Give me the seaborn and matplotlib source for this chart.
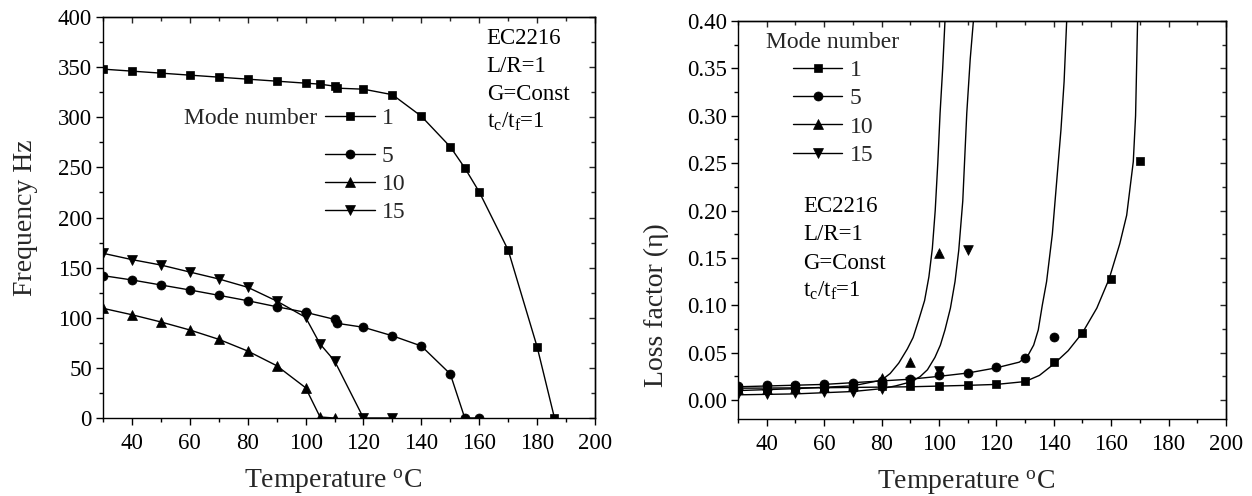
import matplotlib
matplotlib.use("Agg")
import matplotlib.pyplot as plt
import seaborn as sns
from matplotlib.lines import Line2D
from matplotlib.ticker import FixedLocator, NullFormatter, FormatStrFormatter

# ---------------- Left panel: natural frequency (Hz) vs temperature (degC)
freq_t_m1 = [30, 40, 50, 60, 70, 80, 90, 100, 105, 110, 111, 120, 130, 140, 150, 155, 160, 170, 180, 186]
freq_m1 = [348, 346, 344, 342, 340, 338, 336, 334, 333, 331, 329, 328, 322.5, 301, 270.5, 249.5, 225.5, 167.5, 71, 0]
freq_t_m5 = [30, 40, 50, 60, 70, 80, 90, 100, 110, 111, 120, 130, 140, 150, 155, 160]
freq_m5 = [142, 137.7, 132.7, 127.7, 122.4, 117, 111, 105.4, 98.4, 94.4, 90.5, 82, 71.8, 43.9, 0, 0]
freq_t_m10 = [30, 40, 50, 60, 70, 80, 90, 100, 105, 110]
freq_m10 = [109.4, 103, 95.8, 87.8, 78.5, 66.8, 52.2, 30.2, 1, 0]
freq_t_m15 = [30, 40, 50, 60, 70, 80, 90, 100, 105, 110, 120, 130]
freq_m15 = [164.3, 158, 152.6, 145.6, 138.7, 130.4, 116.7, 100.4, 73.8, 57, 0, 0]

# ---------------- Right panel: loss factor, measured points
loss_t_m1 = [30, 40, 50, 60, 70, 80, 90, 100, 110, 120, 130, 140, 150, 160, 170]
loss_m1 = [0.013, 0.013, 0.0135, 0.014, 0.014, 0.0145, 0.015, 0.015, 0.016, 0.017, 0.020, 0.040, 0.071, 0.128, 0.252]
loss_t_m5 = [30, 40, 50, 60, 70, 80, 90, 100, 110, 120, 130, 140]
loss_m5 = [0.015, 0.0155, 0.016, 0.017, 0.018, 0.020, 0.022, 0.026, 0.029, 0.0345, 0.044, 0.067]
loss_t_m10 = [30, 40, 50, 60, 70, 80, 90, 100]
loss_m10 = [0.012, 0.012, 0.013, 0.014, 0.016, 0.023, 0.0405, 0.155]
loss_t_m15 = [30, 40, 50, 60, 70, 80, 90, 100, 110]
loss_m15 = [0.006, 0.006, 0.007, 0.008, 0.009, 0.012, 0.019, 0.031, 0.158]

# ---------------- Right panel: fitted curves
fit_t_m1 = [30, 60, 90, 110, 120, 130, 135, 140, 145, 150, 155, 159.3, 163, 165.4, 167.7, 168.5, 169.2]
fit_m1 = [0.0125, 0.013, 0.014, 0.0155, 0.0165, 0.0195, 0.026, 0.038, 0.052, 0.071, 0.097, 0.128, 0.165, 0.195, 0.2515, 0.30, 0.40]
fit_t_m5 = [30, 60, 90, 100, 110, 120, 128, 131, 133, 134.6, 136, 137.5, 139.5, 141, 142.5, 143.6, 144.5]
fit_m5 = [0.014, 0.0165, 0.022, 0.025, 0.0285, 0.034, 0.040, 0.047, 0.058, 0.074, 0.10, 0.125, 0.175, 0.23, 0.285, 0.336, 0.40]
fit_t_m10 = [30, 50, 70, 80, 83, 86, 89, 91, 93, 95, 96.5, 97.7, 98.7, 99.6, 100.4, 101.3, 102.1]
fit_m10 = [0.010, 0.012, 0.015, 0.021, 0.028, 0.039, 0.054, 0.066, 0.085, 0.105, 0.13, 0.16, 0.20, 0.25, 0.303, 0.35, 0.40]
fit_t_m15 = [30, 50, 70, 80, 85, 90, 93.4, 96, 98.6, 100.5, 102.1, 104, 105.6, 106.9, 108.3, 109.7, 110.9, 112]
fit_m15 = [0.0055, 0.0065, 0.009, 0.012, 0.015, 0.019, 0.0246, 0.032, 0.045, 0.058, 0.074, 0.097, 0.125, 0.158, 0.21, 0.303, 0.36, 0.40]

mode_labels = ["1", "5", "10", "15"]
markers = ["s", "o", "^", "v"]
msizes = [5.5, 6.5, 7, 7]

x_major = list(range(40, 201, 20))
x_minor = list(range(30, 200, 20))

FONT = ["Liberation Serif", "DejaVu Serif"]
sns.set_style("ticks")
plt.rcParams["font.family"] = FONT
plt.rcParams["mathtext.fontset"] = "custom"
plt.rcParams["mathtext.rm"] = "Liberation Serif"
plt.rcParams["mathtext.it"] = "Liberation Serif:italic"

W, H = 1252, 496
fig = plt.figure(figsize=(W / 100, H / 100), dpi=100)


def axrect(x0, y0, x1, y1):
    return [x0 / W, 1 - y1 / H, (x1 - x0) / W, (y1 - y0) / H]


axL = fig.add_axes(axrect(103, 17, 595, 418))
axR = fig.add_axes(axrect(738, 21, 1226, 419))


def style(ax, ylim, y_major, y_minor, yfmt):
    ax.set_xlim(30, 200)
    ax.set_ylim(*ylim)
    ax.xaxis.set_major_locator(FixedLocator(x_major))
    ax.xaxis.set_minor_locator(FixedLocator(x_minor))
    ax.yaxis.set_major_locator(FixedLocator(y_major))
    ax.yaxis.set_minor_locator(FixedLocator(y_minor))
    ax.yaxis.set_major_formatter(FormatStrFormatter(yfmt))
    for sp in ax.spines.values():
        sp.set_visible(True)
        sp.set_linewidth(1.0)
        sp.set_color("black")
    ax.tick_params(which="major", direction="out", length=5, width=1, labelsize=16.5,
                   color="black", labelcolor="black", labelfontfamily=FONT)
    ax.tick_params(which="minor", direction="out", length=3, width=1, color="black")
    ax.tick_params(axis="x", which="major", pad=6)
    ax.tick_params(axis="y", which="major", pad=3)
    for lab in ax.get_xticklabels() + ax.get_yticklabels():
        lab.set_fontfamily(FONT)
    secx = ax.secondary_xaxis("top")
    secx.xaxis.set_major_locator(FixedLocator(x_major))
    secx.xaxis.set_minor_locator(FixedLocator(x_minor))
    secx.xaxis.set_major_formatter(NullFormatter())
    secx.tick_params(which="major", direction="in", length=4, width=1)
    secx.tick_params(which="minor", direction="in", length=3, width=1)
    secx.spines["top"].set_linewidth(1.0)
    secy = ax.secondary_yaxis("right")
    secy.yaxis.set_major_locator(FixedLocator(y_major))
    secy.yaxis.set_minor_locator(FixedLocator(y_minor))
    secy.yaxis.set_major_formatter(NullFormatter())
    secy.tick_params(which="major", direction="in", length=4, width=1)
    secy.tick_params(which="minor", direction="in", length=3, width=1)
    secy.spines["right"].set_linewidth(1.0)


# ---------------- left panel
left_series = [(freq_t_m1, freq_m1), (freq_t_m5, freq_m5), (freq_t_m10, freq_m10), (freq_t_m15, freq_m15)]
for (t, f), m, ms in zip(left_series, markers, msizes):
    sns.lineplot(x=t, y=f, ax=axL, color="black", lw=1.0, marker=m, markersize=ms,
                 markeredgecolor="black", markeredgewidth=0.5, sort=False, estimator=None,
                 legend=False)

style(axL, (0, 400), list(range(0, 401, 50)), list(range(25, 400, 50)), "%d")
axL.set_xlabel("Temperature $^{\\mathrm{o}}$C", fontsize=20)
axL.xaxis.set_label_coords(0.4685, -0.125)
axL.set_ylabel("Frequency Hz", fontsize=20)
axL.yaxis.set_label_coords(-0.132, 0.5)

txt_kw = dict(fontsize=16.5, color="black", va="baseline", ha="left", transform=axL.transAxes)
for s, yb in zip(["EC2216", "L/R=1", "G=Const", "t$_{\\mathrm{c}}$/t$_{\\mathrm{f}}$=1"],
                 [0.933, 0.863, 0.793, 0.723]):
    axL.text(0.78, yb, s, **txt_kw)


def handle(m, ms):
    return Line2D([], [], color="black", lw=1.0, marker=m, markersize=ms,
                  markeredgecolor="black", markeredgewidth=0.5)


handles = [handle(m, ms) for m, ms in zip(markers, msizes)]
leg_kw = dict(frameon=False, fontsize=17, handlelength=2.1, handletextpad=0.3,
              borderpad=0, borderaxespad=0, labelspacing=0.28,
              bbox_transform=fig.transFigure)
legA = axL.legend(handles[:1], mode_labels[:1], loc="center left",
                  bbox_to_anchor=(325 / W, 1 - 118 / H), **leg_kw)
axL.add_artist(legA)
axL.legend(handles[1:], mode_labels[1:], loc="center left",
           bbox_to_anchor=(325 / W, 1 - 184.5 / H), **leg_kw)
axL.text(317 / W, 1 - 118 / H, "Mode number", fontsize=17, ha="right", va="center",
         transform=fig.transFigure)

# ---------------- right panel
fits = [(fit_t_m1, fit_m1), (fit_t_m5, fit_m5), (fit_t_m10, fit_m10), (fit_t_m15, fit_m15)]
for t, v in fits:
    sns.lineplot(x=t, y=v, ax=axR, color="black", lw=1.0, sort=False, estimator=None,
                 legend=False)
points = [(loss_t_m1, loss_m1), (loss_t_m5, loss_m5), (loss_t_m10, loss_m10), (loss_t_m15, loss_m15)]
for (t, v), m, ms in zip(points, markers, msizes):
    sns.scatterplot(x=t, y=v, ax=axR, marker=m, s=ms ** 2, color="black",
                    edgecolor="black", linewidth=0.5, legend=False, zorder=3)

yR_major = [round(0.05 * i, 2) for i in range(9)]
yR_minor = [round(0.025 + 0.05 * i, 3) for i in range(8)]
style(axR, (-0.02, 0.40), yR_major, yR_minor, "%.2f")
axR.set_xlabel("Temperature $^{\\mathrm{o}}$C", fontsize=20)
axR.xaxis.set_label_coords(0.468, -0.125)
axR.set_ylabel("Loss factor (η)", fontsize=20)
axR.yaxis.label.set_horizontalalignment("left")
axR.yaxis.set_label_coords(-0.141, 0.080)

txtR = dict(fontsize=16.5, color="black", va="baseline", ha="left", transform=axR.transAxes)
for s, yb in zip(["EC2216", "L/R=1", "G=Const", "t$_{\\mathrm{c}}$/t$_{\\mathrm{f}}$=1"],
                 [0.520, 0.450, 0.378, 0.307]):
    axR.text(0.133, yb, s, **txtR)

axR.legend(handles, mode_labels, title="Mode number", title_fontsize=17, loc="center",
           bbox_to_anchor=(833 / W, 1 - 99 / H), **leg_kw)

fig.savefig("out.png", dpi=100)
